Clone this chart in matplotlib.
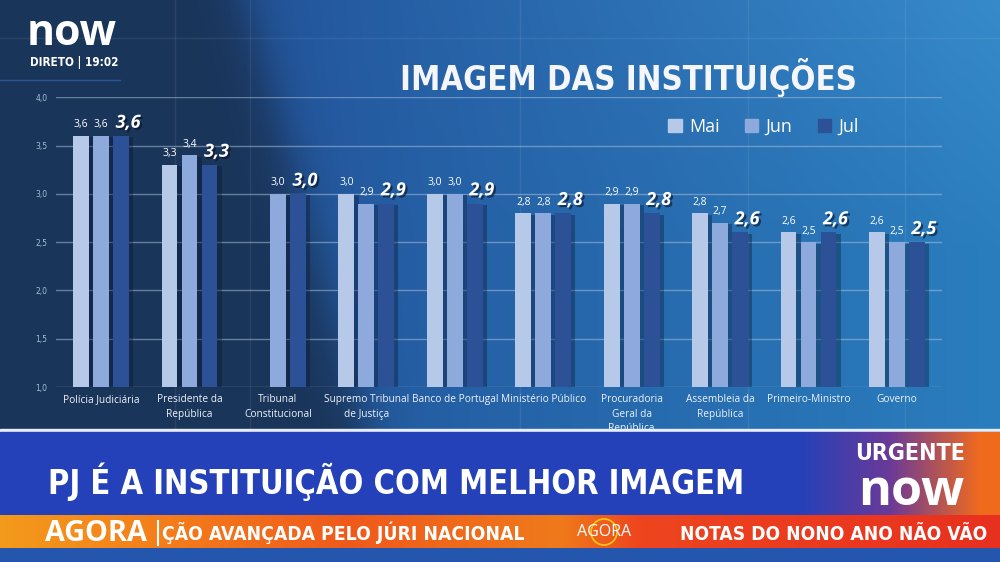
import numpy as np
import matplotlib
matplotlib.use("Agg")
import matplotlib.pyplot as plt
from matplotlib import patheffects as pe
from matplotlib import font_manager as fm
from matplotlib.patches import Rectangle, Patch, Circle

# ---------------- data ----------------
categories = ["Polícia Judiciária", "Presidente da\nRepública", "Tribunal\nConstitucional",
              "Supremo Tribunal\nde Justiça", "Banco de Portugal", "Ministério Público",
              "Procuradoria\nGeral da\nRepública", "Assembleia da\nRepública",
              "Primeiro-Ministro", "Governo"]
series_names = ["Mai", "Jun", "Jul"]
mai = [3.6, 3.3, np.nan, 3.0, 3.0, 2.8, 2.9, 2.8, 2.6, 2.6]
jun = [3.6, 3.4, 3.0, 2.9, 3.0, 2.8, 2.9, 2.7, 2.5, 2.5]
jul = [3.6, 3.3, 3.0, 2.9, 2.9, 2.8, 2.8, 2.6, 2.6, 2.5]
yticks = [1.0, 1.5, 2.0, 2.5, 3.0, 3.5, 4.0]

title = "IMAGEM DAS INSTITUIÇÕES"
headline = "PJ É A INSTITUIÇÃO COM MELHOR IMAGEM"

colors = ["#b6c9e8", "#8eaadc", "#2d5196"]

names = {f.name for f in fm.fontManager.ttflist}
body = "Open Sans" if "Open Sans" in names else "DejaVu Sans"


def find_condensed():
    best, best_score = None, -1
    for f in fm.fontManager.ttflist:
        n = (f.name + " " + f.fname).lower()
        cond = (str(f.stretch) in ("condensed", "semi-condensed", "extra-condensed",
                                   "ultra-condensed") or "condensed" in n or "narrow" in n)
        if not cond or f.style != "normal":
            continue
        w = f.weight if isinstance(f.weight, (int, float)) else 400
        score = 10 + (5 if 600 <= w <= 800 else 0) + ("extra" not in n and "ultra" not in n) * 2
        if score > best_score:
            best, best_score = f.fname, score
    return best


cpath = find_condensed()
if cpath:
    cond_fp = fm.FontProperties(fname=cpath)
else:
    cond_fp = fm.FontProperties(family="DejaVu Sans", weight="bold")

W, H = 1000, 562
fig = plt.figure(figsize=(10, 5.62), dpi=100)
renderer = fig.canvas.get_renderer()


def fit(txt, target_w):
    bb = txt.get_window_extent(renderer)
    if bb.width > 0:
        txt.set_fontsize(txt.get_fontsize() * target_w / bb.width)
    return txt


# ---------------- background ----------------
bg = fig.add_axes([0, 0, 1, 1], zorder=0)
bg.set_xlim(0, W); bg.set_ylim(H, 0); bg.axis("off")
yy, xx = np.mgrid[0:H, 0:W]
dark = np.array([0x1a, 0x35, 0x5a]) / 255
mid = np.array([0x23, 0x55, 0x9c]) / 255
right = np.array([0x2a, 0x7e, 0xbe]) / 255
t = np.clip((xx - 250) / 750, 0, 1)[..., None]
base = mid * (1 - t) + right * t
edge = 245 + yy * 0.28
s = (1 / (1 + np.exp(-(xx - edge) / 14)))[..., None]
img = dark * (1 - s) + base * s
img = img + (0.05 * np.clip(1 - yy / 250, 0, 1) * np.clip((xx - 300) / 700, 0, 1))[..., None]
img = np.clip(img, 0, 1)
bg.imshow(img, extent=[0, W, H, 0], aspect="auto", interpolation="bilinear")
for xv in [175, 250, 520, 748, 905]:
    bg.plot([xv, xv], [0, 430], color="white", alpha=0.07, lw=1)
bg.plot([0, W], [38, 38], color="white", alpha=0.07, lw=1)
bg.plot([0, 120], [80, 80], color="#3a7ad0", alpha=0.5, lw=1)

# ---------------- chart ----------------
ax = fig.add_axes([0.056, 1 - 387 / H, 0.886, (387 - 97.3) / H], zorder=2)
ax.set_facecolor("none")
x = np.arange(len(categories))
pitch = 0.226
bw = 0.18
bar_shadow = [pe.SimplePatchShadow(offset=(3, -1), shadow_rgbFace="#06142e", alpha=0.35), pe.Normal()]
for si, (vals, col) in enumerate(zip([mai, jun, jul], colors)):
    for i, v in enumerate(vals):
        if np.isnan(v):
            continue
        xi = x[i] + (si - 1) * pitch
        b = ax.bar(xi, v, width=bw, color=col, zorder=3)
        b[0].set_path_effects(bar_shadow)
        lab = f"{v:.1f}".replace(".", ",")
        if si < 2:
            ax.annotate(lab, (xi, v), xytext=(0, 4), textcoords="offset points",
                        ha="center", va="bottom", color="white", fontsize=7.5,
                        family=body, zorder=5)
        else:
            ax.annotate(lab, (xi, v), xytext=(5, 3), textcoords="offset points",
                        ha="center", va="bottom", color="white", fontsize=13,
                        fontweight="bold", fontstyle="italic", family=body, zorder=5,
                        path_effects=[pe.SimplePatchShadow(offset=(1.5, -1.5),
                                      shadow_rgbFace="#061020", alpha=0.6), pe.Normal()])

ax.set_xlim(-0.51, 9.51)
ax.set_ylim(1.0, 4.0)
ax.set_yticks(yticks)
ax.set_yticklabels([f"{v:.1f}".replace(".", ",") for v in yticks])
ax.tick_params(axis="y", length=0, pad=6, labelsize=5.5, labelcolor="#a9bcd8")
ax.set_xticks(x)
ax.set_xticklabels(categories)
ax.tick_params(axis="x", length=0, pad=5, labelsize=7.3, labelcolor="#eef3fb")
for lbl in ax.get_xticklabels():
    lbl.set_family(body)
    lbl.set_linespacing(1.45)
ax.grid(axis="y", color="#a8bcd8", alpha=0.55, lw=1)
ax.set_axisbelow(True)
for sp in ax.spines.values():
    sp.set_visible(False)

handles = [Patch(color=c, label=n) for c, n in zip(colors, series_names)]
fig.legend(handles=handles, loc="center left", bbox_to_anchor=(0.652, 1 - 127 / H),
           ncol=3, frameon=False, labelcolor="white",
           handlelength=0.75, handleheight=0.75, handletextpad=0.4, columnspacing=1.4,
           prop={"family": body, "size": 13})

# title
tt = fig.text(400 / W, 1 - 90 / H, title, ha="left", va="baseline", color="#f4f6fa",
              fontproperties=cond_fp, fontsize=40, fontweight="bold", zorder=5)
fit(tt, 457)

# ---------------- overlays (TV graphics) ----------------
ov = fig.add_axes([0, 0, 1, 1], zorder=10)
ov.set_xlim(0, W); ov.set_ylim(H, 0); ov.axis("off")
ov.patch.set_alpha(0)

fit(ov.text(27, 45, "now", ha="left", va="baseline", color="white", fontsize=30,
            fontweight="bold", family=body), 90)
fit(ov.text(30, 66, "DIRETO | 19:02", ha="left", va="baseline", color="white",
            fontproperties=cond_fp, fontsize=10, fontweight="bold"), 88)

# headline band
ov.add_patch(Rectangle((0, 429), W, 3, color="#e8edf6", zorder=1))
ov.add_patch(Rectangle((0, 432), W, 83, color="#2541b9", zorder=1))
grad = np.linspace(0, 1, 200)
c0 = np.array([0x25, 0x41, 0xb9]) / 255
c1 = np.array([0x6a, 0x3a, 0x98]) / 255
c2 = np.array([0xf0, 0x6a, 0x1e]) / 255
g = np.where(grad[:, None] < 0.45, c0 + (c1 - c0) * (grad[:, None] / 0.45),
             c1 + (c2 - c1) * np.clip((grad[:, None] - 0.45) / 0.45, 0, 1))
ov.imshow(g[None, :, :], extent=[800, W, 515, 432], aspect="auto", zorder=2)
fit(ov.text(48, 494, headline, ha="left", va="baseline", color="white",
            fontproperties=cond_fp, fontsize=40, fontweight="bold", zorder=3), 697)
fit(ov.text(855, 460, "URGENTE", ha="left", va="baseline", color="white",
            fontproperties=cond_fp, fontsize=18, fontweight="bold", zorder=3), 110)
fit(ov.text(858, 505, "now", ha="left", va="baseline", color="white", fontsize=28,
            fontweight="bold", family=body, zorder=3), 106)

# ticker
stops_x = np.array([0, 150, 350, 560, 640, 1000])
stops_c = np.array([[0xf3, 0x9a, 0x1c], [0xf5, 0x80, 0x1a], [0xef, 0x5a, 0x1c],
                    [0xf0, 0x7a, 0x1a], [0xee, 0x45, 0x1e], [0xe8, 0x30, 0x1e]]) / 255
xs = np.arange(0, W)
tick_img = np.stack([np.interp(xs, stops_x, stops_c[:, k]) for k in range(3)], axis=-1)
ov.imshow(tick_img[None, :, :], extent=[0, W, 548, 515], aspect="auto", zorder=2)
ov.add_patch(Rectangle((0, 548), W, H - 548, color="#2556ae", zorder=1))
fit(ov.text(45, 541, "AGORA", ha="left", va="baseline", color="white", fontsize=16,
            fontweight="bold", family=body, zorder=3), 102)
ov.plot([158, 158], [521, 545], color="white", lw=1.5, zorder=3)
fit(ov.text(162, 540, "ÇÃO AVANÇADA PELO JÚRI NACIONAL", ha="left", va="baseline",
            color="white", fontproperties=cond_fp, fontsize=15, fontweight="bold",
            zorder=3), 362)
ov.add_patch(Circle((604, 532), 13, fill=False, edgecolor="#f6c21a", lw=1.3, zorder=3))
fit(ov.text(577, 536, "AGORA", ha="left", va="baseline", color="white", fontsize=9,
            family=body, zorder=4), 54)
fit(ov.text(680, 540, "NOTAS DO NONO ANO NÃO VÃO", ha="left", va="baseline", color="white",
            fontproperties=cond_fp, fontsize=15, fontweight="bold", zorder=3), 308)

fig.savefig("out.png", dpi=100)
